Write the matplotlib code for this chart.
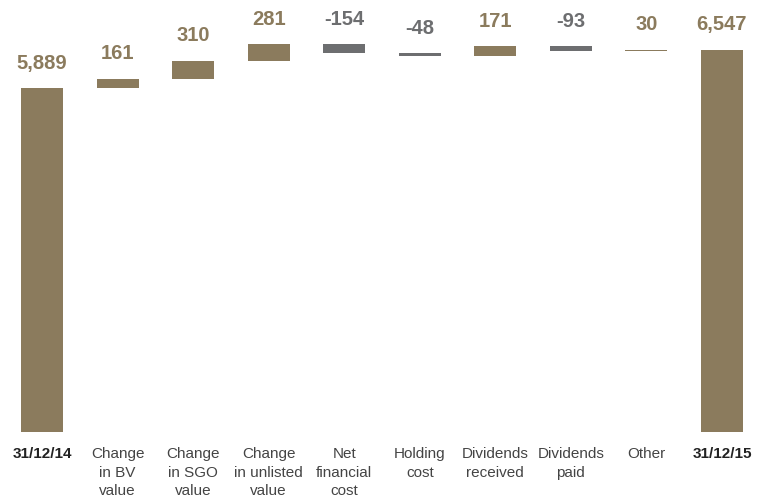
import matplotlib.pyplot as plt
import numpy as np

categories = ['31/12/14', 'Change\nin BV\nvalue', 'Change\nin SGO\nvalue', 'Change\nin unlisted\nvalue',
              'Net\nfinancial\ncost', 'Holding\ncost', 'Dividends\nreceived', 'Dividends\npaid',
              'Other', '31/12/15']
values = [5889, 161, 310, 281, -154, -48, 171, -93, 30, 6547]
labels = ['5,889', '161', '310', '281', '-154', '-48', '171', '-93', '30', '6,547']
is_total = [True, False, False, False, False, False, False, False, False, True]

brown = '#8b7b5d'
grey = '#6d6e70'
fonts = ['Liberation Sans Narrow', 'Liberation Sans', 'DejaVu Sans']

fig = plt.figure(figsize=(7.59, 5.01), dpi=100)
ax = fig.add_axes([0, 69/501, 1, 432/501])

x = np.arange(len(values))
bottoms = []
heights = []
run = 0
for v, tot in zip(values, is_total):
    if tot:
        bottoms.append(0)
        heights.append(v)
        run = v
    else:
        bottoms.append(min(run, run + v))
        heights.append(abs(v))
        run += v
colors = [grey if v < 0 else brown for v in values]

ax.bar(x, heights, bottom=bottoms, width=0.556, color=colors)

for xi, b, h, lab, c in zip(x, bottoms, heights, labels, colors):
    ax.annotate(lab, (xi, b + h), xytext=(0, 11), textcoords='offset points',
                ha='center', va='bottom', fontsize=14.5, fontweight='bold',
                color=c, family=fonts)

ax.set_xlim(-0.556, 9.49)
ax.set_ylim(0, 7397)
ax.set_xticks(x)
ax.set_xticklabels(categories, family=fonts, fontsize=11, color='#444444', linespacing=1.4)
for t, tot in zip(ax.get_xticklabels(), is_total):
    if tot:
        t.set_fontweight('bold')
        t.set_color('#222222')
ax.tick_params(axis='x', length=0, pad=11)
ax.set_yticks([])
for s in ax.spines.values():
    s.set_visible(False)

fig.savefig('out.png', dpi=100)
